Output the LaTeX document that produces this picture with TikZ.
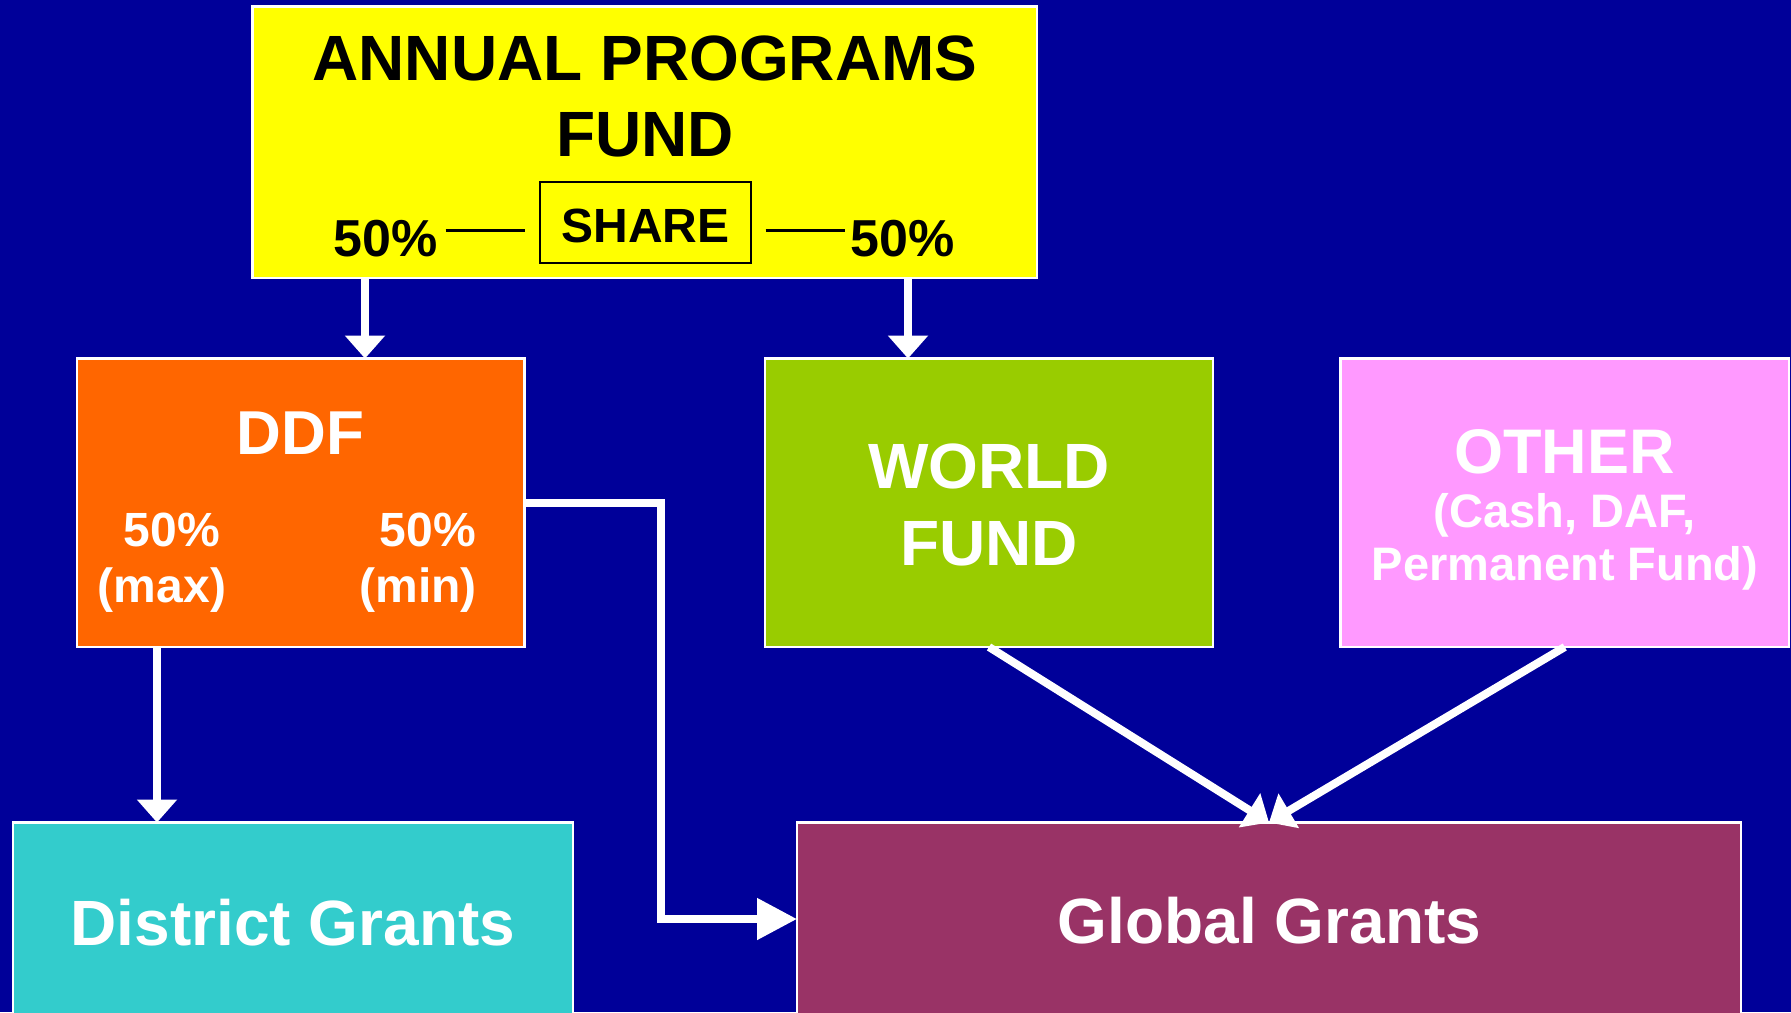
\documentclass[tikz,border=0pt]{standalone}
\usepackage{fontspec}
\setmainfont{Liberation Sans}
\usetikzlibrary{arrows.meta}
\definecolor{bgblue}{HTML}{000099}
\definecolor{cyellow}{HTML}{FFFF00}
\definecolor{corange}{HTML}{FF6600}
\definecolor{cgreen}{HTML}{99CC00}
\definecolor{cpink}{HTML}{FF99FF}
\definecolor{cteal}{HTML}{33CCCC}
\definecolor{cmaroon}{HTML}{993366}
\tikzset{
  box/.style={draw=white, line width=2.5pt, inner sep=0pt, outer sep=0pt},
  arr/.style={draw=white, line width=8pt, -{Triangle[width=39pt,length=23pt]}},
  bigarr/.style={draw=white, line width=8pt, -{Triangle[width=40pt,length=40pt]}},
  lbl/.style={anchor=base, inner sep=0pt, font=\bfseries},
  wlbl/.style={lbl, text=white},
  blbl/.style={lbl, text=black},
  fs/.style={font=\fontsize{#1}{#1}\selectfont\bfseries},
  sharelin/.style={draw=black, line width=3pt},
}
\begin{document}
\begin{tikzpicture}[x=1pt, y=-1pt]
\clip (0,0) rectangle (1791,1012);
\fill[bgblue] (0,0) rectangle (1791,1012);

% boxes
\node[box, fill=cyellow, minimum width=784.5pt, minimum height=271.5pt] (apf) at (644.75,142.25) {};
\node[box, fill=corange, minimum width=447.5pt, minimum height=288.5pt] (ddf) at (300.75,502.75) {};
\node[box, fill=cgreen, minimum width=448pt, minimum height=288.5pt] (wf) at (989,502.75) {};
\node[box, fill=cpink, minimum width=448.5pt, minimum height=288.5pt] (oth) at (1564.75,502.75) {};
\node[box, fill=cteal, minimum width=560pt, minimum height=217pt] (dg) at (293,931) {};
\node[box, fill=cmaroon, minimum width=944pt, minimum height=217pt] (gg) at (1269,931) {};

% annual programs fund texts
\node[blbl, fs=64] (apf1) at (645,80) {ANNUAL PROGRAMS};
\node[blbl, fs=64] (apf2) at (645,156.7) {FUND};
\node[draw=black, line width=2pt, inner sep=0pt, minimum width=211pt, minimum height=81pt] (share) at (645.5,222.5) {};
\node[blbl, fs=48] (sharet) at (645.5,242) {SHARE};
\node[blbl, fs=52] (pl) at (385.7,256.7) {50\%};
\node[blbl, fs=52] (pr) at (902.5,256.7) {50\%};
\coordinate (l1a) at (445.6,230.7);
\coordinate (l1b) at (524.7,230.7);
\coordinate (l2a) at (765.6,230.7);
\coordinate (l2b) at (844.6,230.7);
\draw[sharelin] (l1a) -- (l1b);
\draw[sharelin] (l2a) -- (l2b);

% DDF texts
\node[wlbl, fs=62] (ddft) at (300.7,454.7) {DDF};
\node[wlbl, fs=48] (ddf1) at (172,546) {50\%};
\node[wlbl, fs=48] (ddf2) at (162,602) {(max)};
\node[wlbl, fs=48] (ddf3) at (428,546) {50\%};
\node[wlbl, fs=48] (ddf4) at (418,602) {(min)};

% World fund
\node[wlbl, fs=64] (wf1) at (989,488.5) {WORLD};
\node[wlbl, fs=64] (wf2) at (989,565.3) {FUND};

% Other
\node[wlbl, fs=63] (ot1) at (1564.5,473) {OTHER};
\node[wlbl, fs=47] (ot2) at (1564.5,527) {(Cash, DAF,};
\node[wlbl, fs=47] (ot3) at (1565,580) {Permanent Fund)};

% bottom boxes
\node[wlbl, fs=64] (dgt) at (293,945) {District Grants};
\node[wlbl, fs=64] (ggt) at (1269.5,943) {Global Grants};

% connectors
\draw[arr] ([xshift=64.25pt]ddf.north |- apf.south) -- ([xshift=64.25pt]ddf.north);
\draw[arr] ([xshift=-81pt]wf.north |- apf.south) -- ([xshift=-81pt]wf.north);
\draw[arr] ([xshift=-143.75pt]ddf.south) -- ([xshift=-143.75pt]ddf.south |- dg.north);
\draw[bigarr] (ddf.east) -- ++(136,0) |- ([yshift=12pt]gg.west);
\draw[arr] (wf.south) -- (gg.north);
\draw[arr] (oth.south) -- (gg.north);
\end{tikzpicture}
\end{document}
